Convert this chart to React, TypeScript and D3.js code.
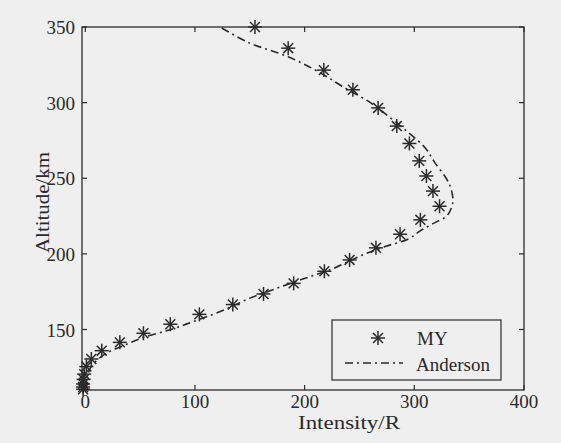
import React from "react";
import * as d3 from "d3";

const xTicks = [0, 100, 200, 300, 400];
const yTicks = [150, 200, 250, 300, 350];

// MY observations: intensity (R), altitude (km)
const myIntensity = [154.7, 185, 217.5, 244, 267, 284, 295.5, 304.5, 311, 317, 323, 305.5, 287, 265, 241, 218, 190, 162.5, 134.5, 104, 77.5, 53, 31.5, 15, 5.5, 1, -1, -1.5, -2, -2, -2];
const myAltitude = [350, 336, 321.5, 308.5, 296.5, 284.5, 273, 261.5, 251.5, 241.5, 231.5, 222.5, 213, 204, 196, 188.5, 180.5, 173.5, 166.5, 160, 153.5, 147.5, 141.5, 136, 130.5, 125.5, 120.5, 117, 114, 112, 110.5];

// Anderson model
const andAltitude = [110, 115, 120, 125, 130, 135, 140, 145, 150, 155, 160, 165, 170, 175, 180, 185, 190, 195, 200, 205, 210, 215, 220, 225, 230, 235, 240, 245, 250, 260, 270, 280, 290, 300, 310, 320, 330, 340, 350];
const andIntensity = [0, 0.5, 2.3, 5, 11, 21, 37, 54, 78, 97.5, 116.5, 133, 147.5, 166, 185, 205, 225, 240, 255, 274, 295, 305, 317, 329.5, 333.6, 335.2, 334.5, 332.5, 329, 319, 310, 295, 278, 260, 236, 213.6, 186, 148, 123];

const W = 561, H = 443;
const L = 82, T = 27, R = 524, B = 390;
const ink = "#2a2a2a";
const bg = "#efeff0";
const font = "'Liberation Serif', 'Times New Roman', serif";

function Star({ x, y, r = 7 }: { x: number; y: number; r?: number }) {
  const d = r * Math.SQRT1_2;
  return (
    <g stroke={ink} strokeWidth={1.5}>
      <line x1={x - r} y1={y} x2={x + r} y2={y} />
      <line x1={x} y1={y - r} x2={x} y2={y + r} />
      <line x1={x - d} y1={y - d} x2={x + d} y2={y + d} />
      <line x1={x - d} y1={y + d} x2={x + d} y2={y - d} />
    </g>
  );
}

export default function App() {
  const x = d3.scaleLinear().domain([-3, 400]).range([L, R]);
  const y = d3.scaleLinear().domain([110, 350]).range([B, T]);
  const andData = andAltitude.map((a, i) => [andIntensity[i], a] as [number, number]);
  const line = d3
    .line<[number, number]>()
    .x((d) => x(d[0]))
    .y((d) => y(d[1]))
    .curve(d3.curveCatmullRom.alpha(0.5));
  const tl = 5;
  const dash = "8,4,2,4";
  return (
    <svg width={W} height={H} style={{ position: "absolute", left: 0, top: 0, background: bg }}>
      <rect x={0} y={0} width={W} height={H} fill={bg} />
      <path d={line(andData) || ""} fill="none" stroke={ink} strokeWidth={1.6} strokeDasharray={dash} />
      {myIntensity.map((v, i) => (
        <Star key={i} x={x(v)} y={y(myAltitude[i])} />
      ))}
      {/* frame */}
      <rect x={L} y={T} width={R - L} height={B - T} fill="none" stroke={ink} strokeWidth={1.3} />
      {/* ticks */}
      {xTicks.map((t) => (
        <g key={"x" + t}>
          <line x1={x(t)} x2={x(t)} y1={B} y2={B - tl} stroke={ink} strokeWidth={1.2} />
          <line x1={x(t)} x2={x(t)} y1={T} y2={T + tl} stroke={ink} strokeWidth={1.2} />
          <text x={x(t)} y={B + 18} textAnchor="middle" fontFamily={font} fontSize={19} fill={ink}>
            {t}
          </text>
        </g>
      ))}
      {yTicks.map((t) => (
        <g key={"y" + t}>
          <line x1={L} x2={L + tl} y1={y(t)} y2={y(t)} stroke={ink} strokeWidth={1.2} />
          <line x1={R} x2={R - tl} y1={y(t)} y2={y(t)} stroke={ink} strokeWidth={1.2} />
          <text x={L - 7} y={y(t) + 7} textAnchor="end" fontFamily={font} fontSize={19} fill={ink}>
            {t}
          </text>
        </g>
      ))}
      <text
        x={298}
        y={429}
        fontFamily={font}
        fontSize={18}
        fill={ink}
        textLength={102}
        lengthAdjust="spacingAndGlyphs"
      >
        Intensity/R
      </text>
      <text
        transform={`translate(49,253) rotate(-90)`}
        fontFamily={font}
        fontSize={18}
        fill={ink}
        textLength={101}
        lengthAdjust="spacingAndGlyphs"
      >
        Altitude/km
      </text>
      {/* legend */}
      <rect x={332} y={320} width={169} height={60} fill={bg} stroke={ink} strokeWidth={1.2} />
      <Star x={378} y={338} />
      <text x={417} y={345} fontFamily={font} fontSize={19} fill={ink}>
        MY
      </text>
      <line x1={345} x2={403} y1={363} y2={363} stroke={ink} strokeWidth={1.4} strokeDasharray={dash} />
      <text x={416} y={371} fontFamily={font} fontSize={19} fill={ink}>
        Anderson
      </text>
    </svg>
  );
}
